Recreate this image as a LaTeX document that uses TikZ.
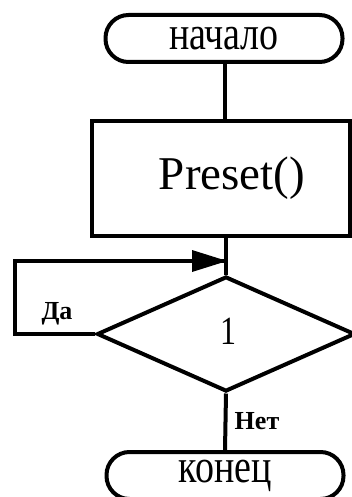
\documentclass[tikz,border=0pt]{standalone}
\usepackage{fontspec}
\setmainfont{Liberation Serif}
\usetikzlibrary{shapes.geometric}
\tikzset{
  flow/.style={line width=4pt, draw=black},
  term/.style={flow, minimum width=237pt, minimum height=47pt, rounded corners=23pt, inner sep=0pt, font=\fontsize{38}{38}\selectfont},
  procbox/.style={flow, minimum width=258pt, minimum height=115pt, inner sep=0pt},
  decide/.style={flow, diamond, minimum width=258pt, minimum height=115pt, inner sep=0pt},
  branch/.style={font=\fontsize{26}{26}\selectfont\bfseries, inner sep=0pt},
  link/.style={line width=4pt, draw=black}
}
\newcommand{\talltext}[2][0pt]{\raisebox{#1}{\scalebox{1}[1.25]{#2}}}
\begin{document}
\begin{tikzpicture}[x=1pt, y=-1pt]
  \useasboundingbox (0,0) rectangle (352,497);
  % blocks
  \node[term] (start) at (224,38.5) {\talltext[-2pt]{начало}};
  \node[procbox] (proc) at (221,178.5) {};
  \node[font=\fontsize{47}{47}\selectfont, inner sep=0pt] (proctxt) at (232,178) {Preset()};
  \node[decide] (dec) at (226,334) {};
  \node[font=\fontsize{32}{32}\selectfont, inner sep=0pt] (dectxt) at (228,331) {\talltext{1}};
  \node[term] (stop) at (225,475.5) {\talltext[-4pt]{конец}};
  % loop-back points
  \coordinate (lp1) at (15,334);
  \coordinate (lp2) at (15,261);
  \coordinate (join) at (227,261);
  % connectors
  \draw[link] (start.south -| 225,0) -- (proc.north -| 225,0);
  \draw[link] (proc.south -| 226,0) -- (dec.north);
  \draw[link] (dec.west) -- (lp1) -- (lp2) -- ([xshift=-1pt]join);
  \fill[black] ([xshift=-35pt,yshift=-11pt]join) -- (join) -- ([xshift=-35pt,yshift=11pt]join) -- cycle;
  \draw[link] (dec.south) -- (stop.north);
  % branch labels
  \node[branch] (yes) at (57,314) {Да};
  \node[branch] (no) at (257,421) {Нет};
\end{tikzpicture}
\end{document}
